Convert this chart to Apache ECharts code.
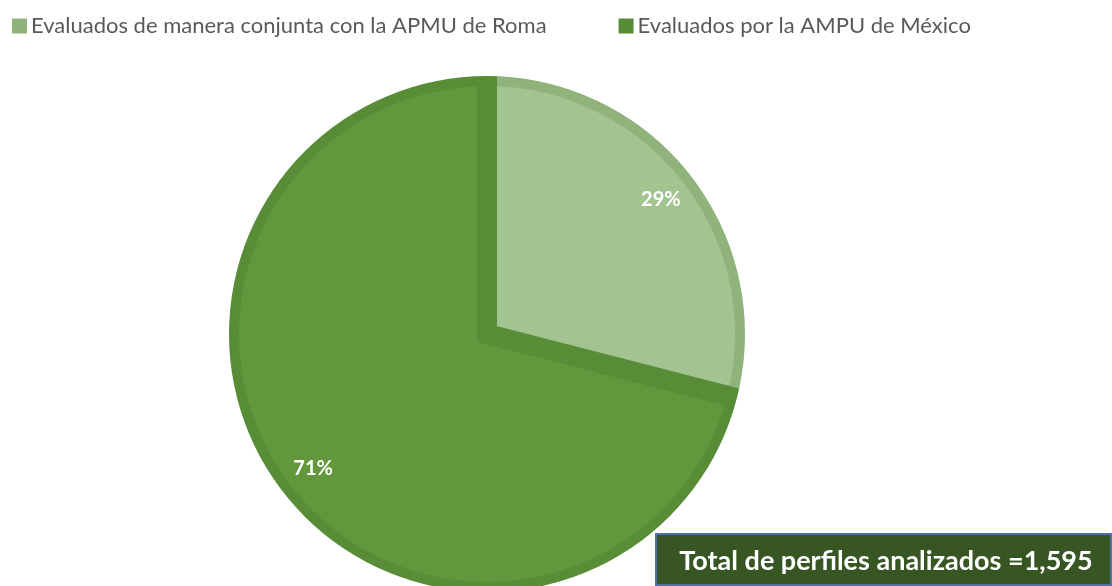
<!DOCTYPE html>
<html>
<head>
<meta charset="utf-8">
<title>Perfiles analizados</title>
<script src="https://cdn.jsdelivr.net/npm/echarts@6/dist/echarts.min.js"></script>
<style>
  html, body { margin: 0; padding: 0; background: #fff; }
  #chart { width: 1112px; height: 586px; }
</style>
</head>
<body>
<div id="chart"></div>
<script>
  // data (percent of the 1,595 profiles)
  const categories = ['Evaluados de manera conjunta con la APMU de Roma', 'Evaluados por la AMPU de México']
  const values = [29, 71]
  const fillColors = ['#a1c490', '#62973c']
  const borderColors = ['#8fb37b', '#588c36']
  const totalText = 'Total de perfiles analizados =1,595'

  const font = 'Lato, "Open Sans", sans-serif'
  const center = [487, 334]
  const R = 258

  const chart = echarts.init(document.getElementById('chart'))

  const slices = categories.map((name, i) => ({
    name,
    value: values[i],
    itemStyle: { color: fillColors[i], borderColor: borderColors[i] }
  }))

  const option = {
    animation: false,
    legend: {
      left: 12,
      top: 15,
      padding: 0,
      icon: 'rect',
      itemWidth: 13,
      itemHeight: 13,
      itemGap: 72,
      textStyle: { fontFamily: font, fontSize: 22, color: '#595959' },
      data: categories.map((name, i) => ({ name, itemStyle: { color: borderColors[i] } }))
    },
    series: [
      {
        type: 'pie',
        center,
        radius: R,
        startAngle: 90,
        clockwise: true,
        silent: true,
        emphasis: { disabled: true },
        label: { show: false },
        labelLine: { show: false },
        itemStyle: { borderWidth: 20, borderJoin: 'miter' },
        data: slices
      },
      {
        // hides the outer half of the slice borders
        type: 'pie',
        center,
        radius: [R, R + 16],
        silent: true,
        emphasis: { disabled: true },
        label: { show: false },
        labelLine: { show: false },
        itemStyle: { color: '#ffffff' },
        data: [{ name: 'ring', value: 1 }]
      },
      {
        // percentage labels placed toward the rim
        type: 'pie',
        center,
        radius: [176, R],
        startAngle: 90,
        clockwise: true,
        silent: true,
        emphasis: { disabled: true },
        itemStyle: { color: 'transparent' },
        label: {
          show: true,
          position: 'inside',
          formatter: '{d}%',
          color: '#ffffff',
          fontFamily: font,
          fontWeight: 'bold',
          fontSize: 20
        },
        labelLine: { show: false },
        data: categories.map((name, i) => ({ name, value: values[i] }))
      }
    ],
    graphic: [
      {
        type: 'group',
        left: 655,
        top: 533,
        zlevel: 1,
        children: [
          {
            type: 'rect',
            z: 100,
            shape: { x: 0, y: 0, width: 455, height: 51 },
            style: { fill: '#375623', stroke: '#4a74a8', lineWidth: 2 }
          },
          {
            type: 'text',
            z: 101,
            x: 230,
            y: 27,
            style: {
              text: totalText,
              fill: '#ffffff',
              fontFamily: font,
              fontWeight: 'bold',
              fontSize: 27,
              align: 'center',
              verticalAlign: 'middle'
            }
          }
        ]
      }
    ]
  }

  chart.setOption(option)
</script>
</body>
</html>
